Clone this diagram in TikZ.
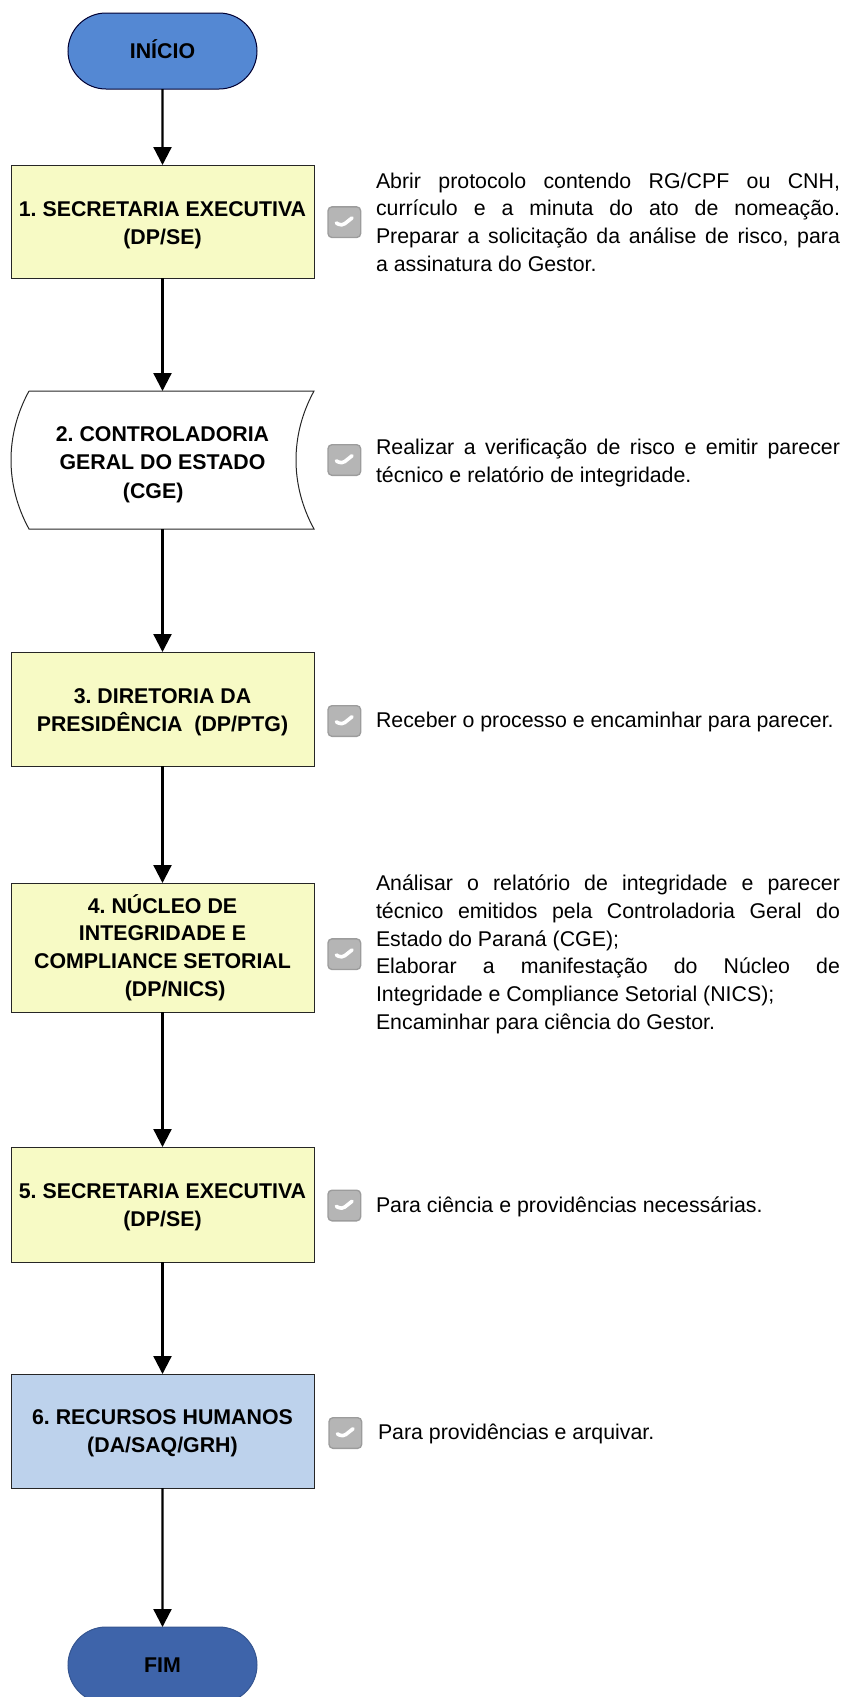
\documentclass[tikz,border=0pt]{standalone}
\usepackage{fontspec}
\setmainfont{Liberation Sans}
\frenchspacing
\usetikzlibrary{arrows.meta, positioning, shapes.misc}
\definecolor{startblue}{HTML}{5488D3}
\definecolor{endblue}{HTML}{3E64AA}
\definecolor{stepyellow}{HTML}{F7FAC5}
\definecolor{rhblue}{HTML}{BDD2EC}
\definecolor{checkgray}{HTML}{B5B5B5}
\definecolor{checkedge}{HTML}{9C9C9C}
\newcommand{\lift}[1]{\rule{0pt}{#1}}
\tikzstyle{flow}=[>={Triangle[width=13.5pt,length=13.5pt]}, line width=1.7pt]
\tikzstyle{label}=[font=\fontsize{16}{20.75}\selectfont\bfseries, align=center, inner sep=0pt, outer sep=0pt]
\tikzstyle{terminal}=[label, rounded rectangle, draw=black!80!blue, line width=0.75pt, minimum width=141.75pt, minimum height=57pt]
\tikzstyle{stepbox}=[label, rectangle, draw=black!85, line width=0.75pt, minimum width=227.25pt]
\tikzstyle{tapebox}=[label, rectangle, minimum width=227.25pt, minimum height=103.5pt]
\tikzstyle{checkbox}=[rectangle, rounded corners=3pt, fill=checkgray, draw=checkedge, line width=1pt, minimum width=24.5pt, minimum height=23pt, inner sep=0pt, outer sep=0pt,
  path picture={\draw[white, line width=2.7pt, line cap=round, line join=round] ([shift={(-6pt,-0.6pt)}]path picture bounding box.center) -- ([shift={(-2pt,-3pt)}]path picture bounding box.center) -- ([shift={(5.8pt,3.2pt)}]path picture bounding box.center);}]
\tikzstyle{note}=[font=\fontsize{16}{20.75}\selectfont, text width=348pt, align=justify, inner sep=0pt, outer sep=0pt, execute at begin node={\tolerance=9999\hyphenpenalty=10000\relax}]
\begin{document}
\begin{tikzpicture}[flow]
  \useasboundingbox (0,0) rectangle (632.25pt,-1272.75pt);
  \node[terminal,fill=startblue] (start) at (121.875pt,-38.25pt) {\rule[-3pt]{0pt}{0pt}INÍCIO};
  \node[stepbox,fill=stepyellow,minimum height=84.75pt] (1) [below=57pt of start] {\lift{16.5pt}1. SECRETARIA EXECUTIVA\\(DP/SE)};
  \node[tapebox] (2) [below=84.75pt of 1] {\lift{18pt}2. CONTROLADORIA\\[0.8pt]GERAL DO ESTADO\\[0.8pt](CGE)\hspace*{14pt}};
  \node[stepbox,fill=stepyellow,minimum height=85.5pt] (3) [below=92.25pt of 2] {\lift{16pt}3. DIRETORIA DA\\PRESIDÊNCIA\ \ (DP/PTG)};
  \node[stepbox,fill=stepyellow,minimum height=96.75pt] (4) [below=87.75pt of 3] {4. NÚCLEO DE\\INTEGRIDADE E\\COMPLIANCE SETORIAL\\\hspace*{19pt}(DP/NICS)};
  \node[stepbox,fill=stepyellow,minimum height=86.25pt] (5) [below=101.25pt of 4] {\lift{15pt}5. SECRETARIA EXECUTIVA\\(DP/SE)};
  \node[stepbox,fill=rhblue,minimum height=85.5pt] (6) [below=84pt of 5] {\lift{15pt}6. RECURSOS HUMANOS\\(DA/SAQ/GRH)};
  \node[terminal,fill=endblue,draw=endblue!85!black] (end) [below=104.25pt of 6] {FIM};
  \draw[line width=0.75pt,draw=black!85] ([xshift=13.5pt]2.north west) -- (2.north east)
    .. controls ([xshift=-18pt,yshift=-33pt]2.north east) and ([xshift=-18pt,yshift=33pt]2.south east) .. (2.south east)
    -- ([xshift=13.5pt]2.south west)
    .. controls ([xshift=-4.5pt,yshift=33pt]2.south west) and ([xshift=-4.5pt,yshift=-33pt]2.north west) .. ([xshift=13.5pt]2.north west);
  \node[checkbox,xshift=0.75pt,yshift=-0.5pt] (c1) [right=9.75pt of 1] {};
  \node[checkbox,xshift=0.75pt] (c2) [right=9.75pt of 2] {};
  \node[checkbox,xshift=0.75pt,yshift=-9pt] (c3) [right=9.75pt of 3] {};
  \node[checkbox,xshift=0.75pt,yshift=-5pt] (c4) [right=9.75pt of 4] {};
  \node[checkbox,xshift=0.75pt,yshift=-0.75pt] (c5) [right=9.75pt of 5] {};
  \node[checkbox,xshift=1.5pt,yshift=-1.5pt] (c6) [right=9.75pt of 6] {};
  \node[note] (t1) [right=11.5pt of c1] {Abrir protocolo contendo RG/CPF ou CNH,\linebreak currículo e a minuta do ato de nomeação.\linebreak Preparar a solicitação da análise de risco, para\linebreak a assinatura do Gestor.};
  \node[note,yshift=-2.25pt] (t2) [right=11.5pt of c2] {Realizar a verificação de risco e emitir parecer\linebreak técnico e relatório de integridade.};
  \node[note,yshift=-0.75pt] (t3) [right=11.5pt of c3] {Receber o processo e encaminhar para parecer.};
  \node[note,yshift=-0.25pt] (t4) [right=11.5pt of c4] {Análisar o relatório de integridade e parecer\linebreak técnico emitidos pela Controladoria Geral do\linebreak Estado do Paraná (CGE);\\Elaborar a manifestação do Núcleo de\linebreak Integridade e Compliance Setorial (NICS);\\Encaminhar para ciência do Gestor.};
  \node[note,yshift=-0.75pt] (t5) [right=11.5pt of c5] {Para ciência e providências necessárias.};
  \node[note,xshift=0.75pt,yshift=-0.75pt] (t6) [right=11.5pt of c6] {Para providências e arquivar.};
  \path[->] (start) edge (1);
  \path[->] (1) edge (2);
  \path[->] (2) edge (3);
  \path[->] (3) edge (4);
  \path[->] (4) edge (5);
  \path[->] (5) edge (6);
  \path[->] (6) edge (end);
\end{tikzpicture}
\end{document}
